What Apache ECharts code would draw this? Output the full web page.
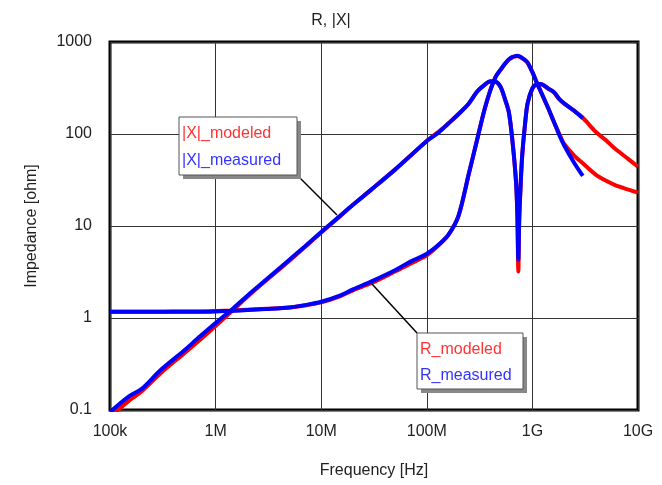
<!DOCTYPE html>
<html>
<head>
<meta charset="utf-8">
<title>R, |X|</title>
<script src="https://cdn.jsdelivr.net/npm/echarts@6/dist/echarts.min.js"></script>
<style>
  html, body { margin: 0; padding: 0; background: #fff; }
  #chart { width: 662px; height: 485px; }
</style>
</head>
<body>
<div id="chart"></div>
<script>
// 频率 (Hz)
const freqs = [
  1e5, 1.5e5, 2e5, 3e5, 5e5, 7e5, 1e6, 1.5e6, 2e6, 3e6, 5e6, 7e6,
  1e7, 1.5e7, 2e7, 3e7, 5e7, 7e7, 1e8, 1.3e8, 1.6e8, 2e8, 2.5e8, 3e8,
  3.5e8, 4e8, 4.5e8, 5e8, 5.5e8, 6e8, 6.5e8, 7e8, 7.2e8, 7.36e8, 7.5e8, 7.7e8,
  8e8, 8.5e8, 9e8, 1e9, 1.1e9, 1.2e9, 1.4e9, 1.6e9, 1.8e9, 2e9, 2.5e9, 3e9,
  4e9, 5e9, 6e9, 8e9, 1e10
];

const xModeled = [
  0.085, 0.125, 0.16, 0.25, 0.41, 0.57, 0.82, 1.25, 1.7, 2.55, 4.2, 5.9,
  8.5, 12.7, 17, 25, 41, 58, 84, 106, 130, 165, 215, 290,
  340, 372, 368, 322, 238, 170, 80, 30, 13, 3.2, 11, 24,
  57, 124, 214, 312, 345, 348, 312, 282, 238, 214, 178, 150,
  105, 85, 70, 54, 44
];
const xMeasured = [
  0.095, 0.14, 0.17, 0.27, 0.44, 0.62, 0.88, 1.3, 1.75, 2.6, 4.3, 6.0,
  8.6, 12.8, 17, 25, 41, 58, 84, 104, 130, 165, 215, 290,
  340, 375, 370, 325, 240, 170, 80, 30, 14, 4.3, 12, 25,
  58, 125, 215, 315, 348, 350, 315, 285, 240, 215, 178, 148,
  null, null, null, null, null
];
const rModeled = [
  1.17, 1.17, 1.17, 1.17, 1.18, 1.18, 1.19, 1.21, 1.23, 1.26, 1.3, 1.37,
  1.48, 1.72, 2.0, 2.4, 3.2, 3.9, 4.8, 6.2, 8, 13, 37, 87,
  180, 300, 420, 500, 580, 645, 685, 700, 703, 700, 695, 685,
  665, 635, 595, 470, 365, 290, 195, 135, 100, 78, 58, 48,
  36, 31, 28, 25, 23
];
const rMeasured = [
  1.17, 1.17, 1.17, 1.17, 1.17, 1.17, 1.18, 1.2, 1.22, 1.25, 1.3, 1.38,
  1.5, 1.75, 2.05, 2.5, 3.3, 4.1, 5.0, 6.3, 8, 13, 37, 87,
  180, 300, 420, 500, 580, 650, 690, 705, 708, 705, 700, 690,
  670, 640, 600, 470, 360, 290, 195, 135, 97, 75, 48, 35,
  null, null, null, null, null
];

const xTickLabels = { 5: "100k", 6: "1M", 7: "10M", 8: "100M", 9: "1G", 10: "10G" };
const yTickLabels = { "-1": "0.1", 0: "1", 1: "10", 2: "100", 3: "1000" };

const pairs = (ys) => freqs.map((f, i) => [f, ys[i]]);

const RED = "#ff0000";
const BLUE = "#0000ff";
const FONT = "Liberation Sans";

const chart = echarts.init(document.getElementById("chart"));

const makeLine = (name, ys, color) => ({
  name: name,
  type: "line",
  data: pairs(ys),
  showSymbol: false,
  smooth: 0.3,
  lineStyle: { color: color, width: 4 },
  itemStyle: { color: color },
  clip: true,
});

const option = {
  animation: false,
  backgroundColor: "#fff",
  textStyle: { fontFamily: FONT },
  title: {
    text: "R, |X|",
    left: "center",
    top: 8,
    textStyle: { fontSize: 16, fontWeight: "normal", color: "#222", fontFamily: FONT },
  },
  grid: {
    left: 110,
    right: 24,
    top: 42,
    bottom: 75,
    show: true,
    borderColor: "#000",
    borderWidth: 3,
  },
  xAxis: {
    type: "log",
    logBase: 10,
    min: 1e5,
    max: 1e10,
    name: "Frequency [Hz]",
    nameLocation: "middle",
    nameGap: 53,
    nameTextStyle: { fontSize: 16, color: "#222" },
    axisLine: { show: false },
    axisTick: { show: false },
    axisLabel: {
      fontSize: 16,
      color: "#222",
      margin: 14,
      formatter: (v) => xTickLabels[Math.round(Math.log10(v))] || "",
    },
    splitLine: { show: true, lineStyle: { color: "#333", width: 1 } },
  },
  yAxis: {
    type: "log",
    logBase: 10,
    min: 0.1,
    max: 1000,
    name: "Impedance [ohm]",
    nameLocation: "middle",
    nameGap: 70,
    nameTextStyle: { fontSize: 16, color: "#222" },
    axisLine: { show: false },
    axisTick: { show: false },
    axisLabel: {
      fontSize: 16,
      color: "#222",
      margin: 18,
      formatter: (v) => yTickLabels[Math.round(Math.log10(v))] || "",
    },
    splitLine: { show: true, lineStyle: { color: "#333", width: 1 } },
  },
  series: [
    makeLine("R_modeled", rModeled, RED),
    makeLine("|X|_modeled", xModeled, RED),
    makeLine("R_measured", rMeasured, BLUE),
    makeLine("|X|_measured", xMeasured, BLUE),
  ],
  graphic: [
    // 引出线
    { type: "line", shape: { x1: 297, y1: 175, x2: 337, y2: 215 }, style: { stroke: "#000", lineWidth: 1.5 }, z: 100 },
    { type: "line", shape: { x1: 372, y1: 284, x2: 417, y2: 333 }, style: { stroke: "#000", lineWidth: 1.5 }, z: 100 },
    // |X| 标注框
    { type: "rect", shape: { x: 183, y: 121, width: 118, height: 58 }, style: { fill: "#888" }, z: 100 },
    { type: "rect", shape: { x: 179, y: 117, width: 118, height: 58 }, style: { fill: "#fff", stroke: "#555", lineWidth: 1 }, z: 101 },
    { type: "text", x: 182, y: 134, style: { text: "|X|_modeled", fill: "#ff3333", fontSize: 16, fontFamily: FONT, verticalAlign: "middle" }, z: 102 },
    { type: "text", x: 182, y: 161, style: { text: "|X|_measured", fill: "#3333ff", fontSize: 16, fontFamily: FONT, verticalAlign: "middle" }, z: 102 },
    // R 标注框
    { type: "rect", shape: { x: 421, y: 337, width: 106, height: 56 }, style: { fill: "#888" }, z: 100 },
    { type: "rect", shape: { x: 417, y: 333, width: 106, height: 56 }, style: { fill: "#fff", stroke: "#555", lineWidth: 1 }, z: 101 },
    { type: "text", x: 420, y: 350, style: { text: "R_modeled", fill: "#ff3333", fontSize: 16, fontFamily: FONT, verticalAlign: "middle" }, z: 102 },
    { type: "text", x: 420, y: 376, style: { text: "R_measured", fill: "#3333ff", fontSize: 16, fontFamily: FONT, verticalAlign: "middle" }, z: 102 },
  ],
};

chart.setOption(option);
window.addEventListener("resize", () => chart.resize());
</script>
</body>
</html>
